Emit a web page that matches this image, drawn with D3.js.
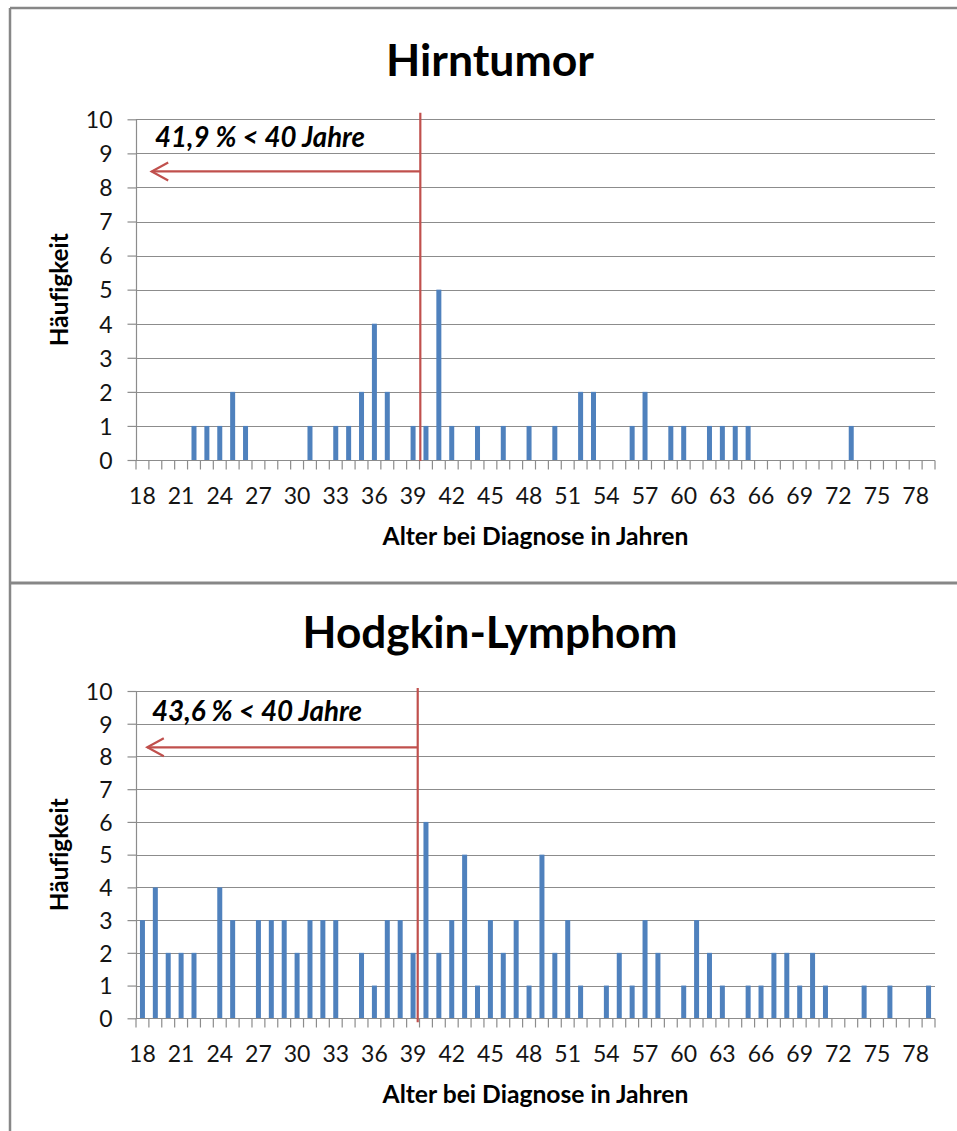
<!DOCTYPE html>
<html>
<head>
<meta charset="utf-8">
<script src="https://cdn.jsdelivr.net/npm/d3@7"></script>
<style>
  body { margin: 0; background: #ffffff; }
  svg { display: block; }
</style>
</head>
<body>
<script>
// Age at diagnosis (years), one category per year
const ages = [18,19,20,21,22,23,24,25,26,27,28,29,30,31,32,33,34,35,36,37,38,39,40,41,42,43,44,45,46,47,48,49,
              50,51,52,53,54,55,56,57,58,59,60,61,62,63,64,65,66,67,68,69,70,71,72,73,74,75,76,77,78,79];
const tickAges = [18,21,24,27,30,33,36,39,42,45,48,51,54,57,60,63,66,69,72,75,78];
const yTicks = [0,1,2,3,4,5,6,7,8,9,10];

// Number of cases per age
const hirntumorCounts = [0,0,0,0,1,1,1,2,1,0,0,0,0,1,0,1,1,2,4,2,0,1,1,5,1,0,1,0,1,0,1,0,
                         1,0,2,2,0,0,1,2,0,1,1,0,1,1,1,1,0,0,0,0,0,0,0,1,0,0,0,0,0,0];
const hodgkinCounts   = [3,4,2,2,2,0,4,3,0,3,3,3,2,3,3,3,0,2,1,3,3,2,6,2,3,5,1,3,2,3,1,5,
                         2,3,1,0,1,2,1,3,2,0,1,3,2,1,0,1,1,2,2,1,2,1,0,0,1,0,1,0,0,1];

const titles = ["Hirntumor", "Hodgkin-Lymphom"];
const shareLabels = ["41,9 % < 40 Jahre", "43,6 % < 40 Jahre"];
const cutoffAge = 40;
const xAxisTitle = "Alter bei Diagnose in Jahren";
const yAxisTitle = "Häufigkeit";

const seriesList = [hirntumorCounts, hodgkinCounts];

// Panel geometry
const W = 957, H = 1131;
const plotLeft = 136, plotRight = 935;
const panels = [
  { top: 119.3, bottom: 460, titleY: 76, arrowVal: 8.47, textVal: 9.18, textDx: 19, tipDx: 15.7, lineTop: 6.6, lineBottom: 1, lineDx: 0.8 },
  { top: 691, bottom: 1018.3, titleY: 648, arrowVal: 8.28, textVal: 9.08, textDx: 16, tipDx: 11.3, lineTop: 3, lineBottom: 4, lineDx: -1.8 }
];

const FONT = "Lato, 'Open Sans', 'DejaVu Sans', sans-serif";
const GRID = "#8c8c8c";
const BAR = "#4f81bd";
const RED = "#c0504d";

const svg = d3.select("body").append("svg")
  .attr("width", W).attr("height", H)
  .attr("viewBox", `0 0 ${W} ${H}`);

// Scale a text element's font size so it spans the given width
function fitWidth(sel, width) {
  const node = sel.node();
  const fs = parseFloat(sel.attr("font-size"));
  const len = node.getComputedTextLength();
  if (len > 0) sel.attr("font-size", fs * width / len);
  return sel;
}

// Outer frame and separator between the two charts
svg.append("line").attr("x1", 10).attr("x2", W).attr("y1", 8).attr("y2", 8)
  .attr("stroke", "#878787").attr("stroke-width", 2.5);
svg.append("line").attr("x1", 10).attr("x2", 10).attr("y1", 8).attr("y2", H)
  .attr("stroke", "#878787").attr("stroke-width", 2.5);
svg.append("line").attr("x1", 10).attr("x2", W).attr("y1", 583).attr("y2", 583)
  .attr("stroke", "#878787").attr("stroke-width", 3);

const titleWidths = [208, 375];

panels.forEach((p, i) => {
  const counts = seriesList[i];
  const g = svg.append("g");

  const x = d3.scaleBand().domain(ages).range([plotLeft, plotRight]).paddingInner(0).paddingOuter(0);
  const y = d3.scaleLinear().domain([0, 10]).range([p.bottom, p.top]);
  const bw = x.bandwidth();
  const barW = 5;

  // Horizontal gridlines
  g.append("g").selectAll("line").data(yTicks.filter(v => v > 0)).join("line")
    .attr("x1", plotLeft).attr("x2", plotRight)
    .attr("y1", d => Math.round(y(d)) + 0.5).attr("y2", d => Math.round(y(d)) + 0.5)
    .attr("stroke", GRID).attr("stroke-width", 1.2);

  // Bars
  g.append("g").selectAll("rect").data(ages.map((a, k) => ({ age: a, n: counts[k] })).filter(d => d.n > 0))
    .join("rect")
    .attr("x", d => x(d.age) + bw / 2 - barW / 2)
    .attr("width", barW)
    .attr("y", d => y(d.n))
    .attr("height", d => y(0) - y(d.n))
    .attr("fill", BAR);

  // Y axis
  const yAxis = d3.axisLeft(y).tickValues(yTicks).tickSize(9).tickPadding(15).tickFormat(d3.format("d"));
  const ya = g.append("g").attr("transform", `translate(${plotLeft + 0.5},0)`).call(yAxis);
  ya.select(".domain").attr("stroke", GRID).attr("stroke-width", 1.2).attr("d", `M0,${p.top}V${p.bottom}`);
  ya.selectAll(".tick line").attr("stroke", GRID).attr("stroke-width", 1.2);
  ya.selectAll(".tick text").attr("font-family", FONT).attr("font-size", 23).attr("fill", "#141414")
    .attr("dy", "0.36em");

  // X axis: ticks between categories, labels every third year
  const xa = g.append("g").attr("transform", `translate(0,${Math.round(y(0)) + 0.5})`);
  xa.append("line").attr("x1", plotLeft).attr("x2", plotRight).attr("stroke", GRID).attr("stroke-width", 1.2);
  xa.selectAll("line.tk").data(ages.concat([null])).join("line").attr("class", "tk")
    .attr("x1", (d, k) => plotLeft + k * bw).attr("x2", (d, k) => plotLeft + k * bw)
    .attr("y1", 0).attr("y2", 9).attr("stroke", GRID).attr("stroke-width", 1.2);
  xa.selectAll("text").data(tickAges).join("text")
    .attr("x", d => x(d) + bw / 2)
    .attr("y", 43)
    .attr("text-anchor", "middle")
    .attr("font-family", FONT).attr("font-size", 23).attr("fill", "#141414")
    .text(d => d);

  // Titles
  const t = svg.append("text").attr("x", 490).attr("y", p.titleY)
    .attr("text-anchor", "middle").attr("font-family", FONT).attr("font-weight", "bold")
    .attr("font-size", 44).attr("fill", "#000").text(titles[i]);
  fitWidth(t, titleWidths[i]);

  const xt = svg.append("text").attr("x", (plotLeft + plotRight) / 2).attr("y", y(0) + 85)
    .attr("text-anchor", "middle").attr("font-family", FONT).attr("font-weight", "bold")
    .attr("font-size", 22).attr("fill", "#000").text(xAxisTitle);
  fitWidth(xt, 306);

  const yt = svg.append("text")
    .attr("transform", `translate(68,${(p.top + p.bottom) / 2}) rotate(-90)`)
    .attr("text-anchor", "middle").attr("font-family", FONT).attr("font-weight", "bold")
    .style("font-variant-ligatures", "none")
    .attr("font-size", 22).attr("fill", "#000").text(yAxisTitle);
  fitWidth(yt, 113);

  // Cut-off marker at 40 years with arrow pointing to younger ages
  const cx = x(cutoffAge) + p.lineDx;
  svg.append("line").attr("x1", cx).attr("x2", cx)
    .attr("y1", p.top - p.lineTop).attr("y2", p.bottom + p.lineBottom)
    .attr("stroke", RED).attr("stroke-width", 2.2);
  const ay = y(p.arrowVal);
  const tipX = plotLeft + p.tipDx;
  svg.append("line").attr("x1", cx).attr("x2", tipX).attr("y1", ay).attr("y2", ay)
    .attr("stroke", RED).attr("stroke-width", 2.2);
  svg.append("path")
    .attr("d", `M${tipX + 16.5},${ay - 9}L${tipX},${ay}L${tipX + 16.5},${ay + 9}`)
    .attr("fill", "none").attr("stroke", RED).attr("stroke-width", 2.2);

  const st = svg.append("text").attr("x", plotLeft + p.textDx).attr("y", y(p.textVal))
    .attr("font-family", FONT).attr("font-weight", "bold").attr("font-style", "italic")
    .attr("font-size", 22).attr("fill", "#000").text(shareLabels[i]);
  fitWidth(st, 210);
});
</script>
</body>
</html>
